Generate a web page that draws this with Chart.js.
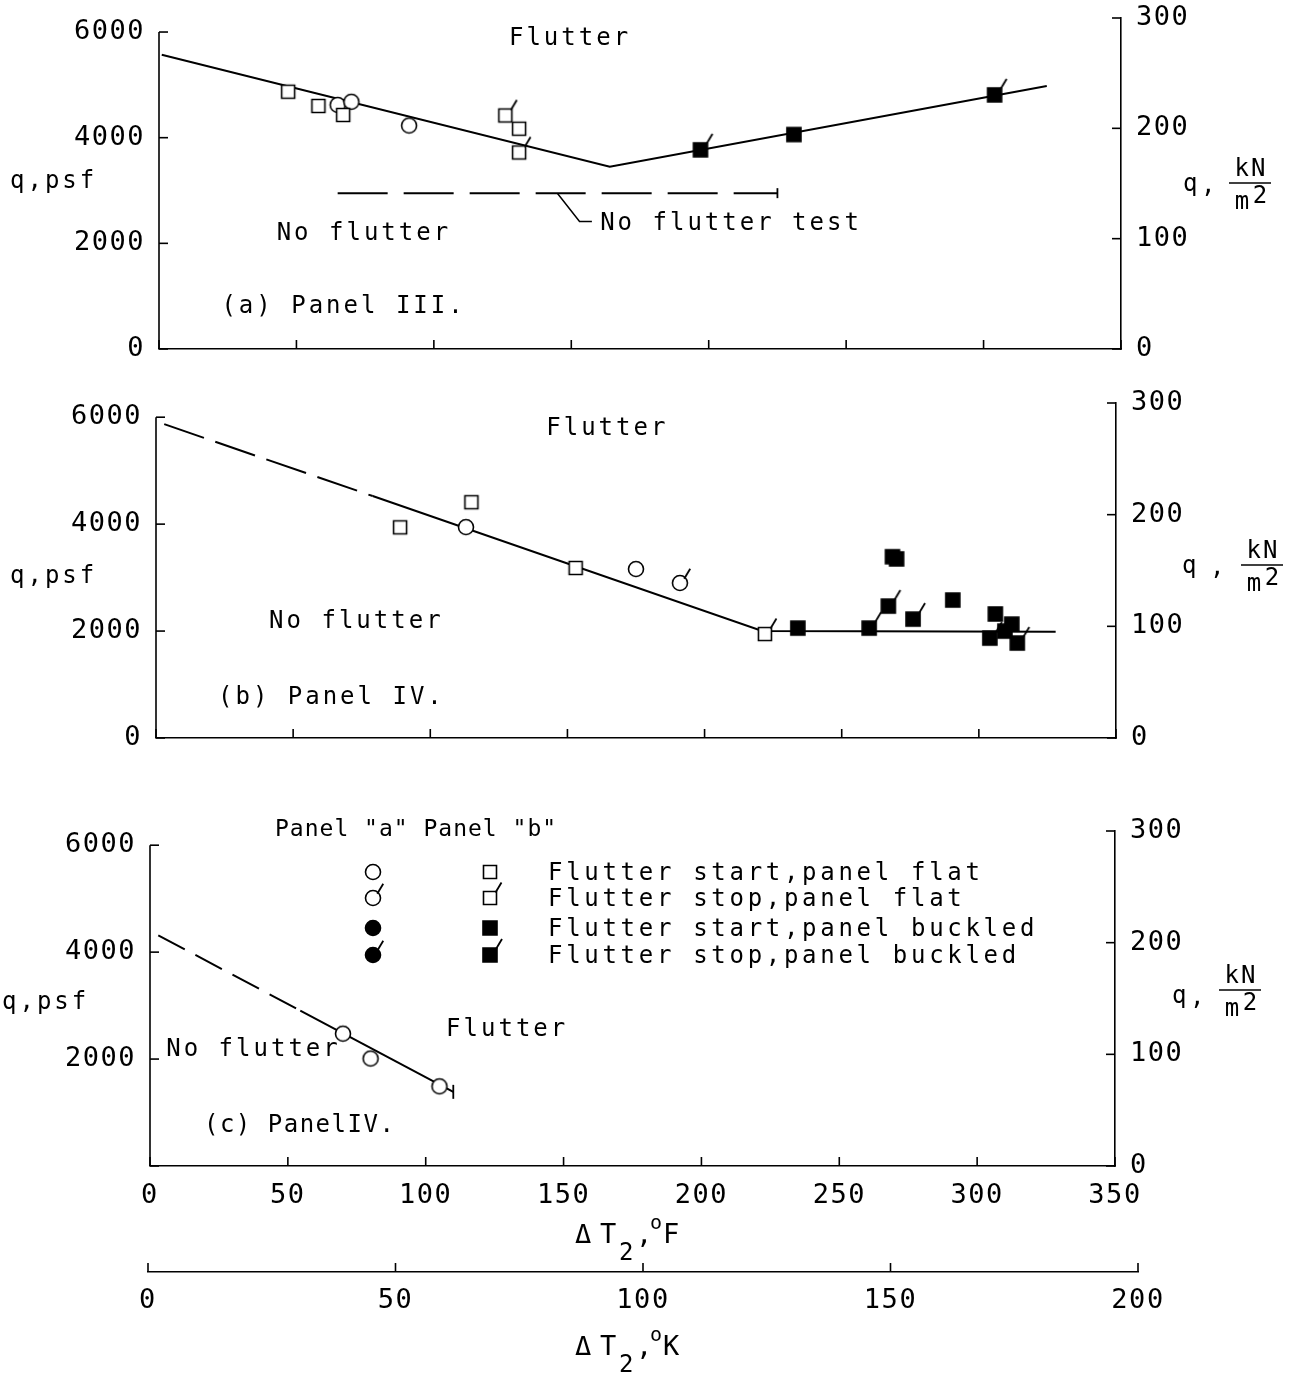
<!DOCTYPE html>
<html>
<head>
<meta charset="utf-8">
<script src="https://cdn.jsdelivr.net/npm/chart.js@4"></script>
<style>
  body { margin: 0; background: #fff; width: 1298px; height: 1376px; position: relative; overflow: hidden; }
  canvas { position: absolute; left: 0; }
</style>
</head>
<body>
<canvas id="ca" width="1298" height="385" style="top:0px"></canvas>
<canvas id="cb" width="1298" height="400" style="top:385px"></canvas>
<canvas id="cc" width="1298" height="480" style="top:785px"></canvas>
<canvas id="ck" width="1298" height="126" style="top:1250px"></canvas>
<script>
"use strict";

// TICKS
const psfTicks = [0, 2000, 4000, 6000];
const kNTicks = [0, 100, 200, 300];
const degFTicks = [0, 50, 100, 150, 200, 250, 300, 350];
const degKTicks = [0, 50, 100, 150, 200];
const PSF_PER_KN = 20.885;

// (a) PANEL III  -- T in deg F, q in psf
const aBoundT = [1, 164, 323];
const aBoundQ = [5570, 3450, 4980];
const aNoTestT = [65, 225];
const aNoTestQ = [2950, 2950];
const aSqStartT = [47, 58, 67, 131];
const aSqStartQ = [4870, 4600, 4430, 4170];
const aSqStopT = [126, 131];
const aSqStopQ = [4420, 3720];
const aCircStartT = [65, 70, 91];
const aCircStartQ = [4620, 4680, 4230];
const aSqBuckStartT = [231];
const aSqBuckStartQ = [4060];
const aSqBuckStopT = [197, 304];
const aSqBuckStopQ = [3770, 4810];

// (b) PANEL IV
const bDashT = [3, 79];
const bDashQ = [5870, 4525];
const bBoundT = [79, 221, 328];
const bBoundQ = [4525, 2000, 1985];
const bSqStartT = [89, 115, 153];
const bSqStartQ = [3940, 4410, 3180];
const bSqStopT = [222];
const bSqStopQ = [1945];
const bCircStartT = [113, 175];
const bCircStartQ = [3945, 3160];
const bCircStopT = [191];
const bCircStopQ = [2900];
const bSqBuckStartT = [234, 268.5, 270, 290.5, 306, 312, 309.5];
const bSqBuckStartQ = [2055, 3390, 3350, 2580, 2320, 2130, 2000];
const bSqBuckStopT = [260, 267, 276, 304, 314];
const bSqBuckStopQ = [2056, 2467, 2224, 1869, 1776];

// (c) PANEL IV
const cDashT = [3, 54.5];
const cDashQ = [4315, 2906];
const cBoundT = [54.5, 110];
const cBoundQ = [2906, 1387];
const cCircStartT = [70, 80, 105];
const cCircStartQ = [2475, 2010, 1490];

const FONT = '"DejaVu Sans Mono", monospace';

// MARKERS
function marker(shape, filled, flag) {
  const c = document.createElement("canvas");
  c.width = 40;
  c.height = 40;
  const g = c.getContext("2d");
  g.translate(20, 20);
  g.strokeStyle = "#000";
  g.lineWidth = 1.6;
  g.beginPath();
  let fx, fy;
  if (shape === "circle") {
    const r = 7.5;
    g.arc(0, 0, r, 0, Math.PI * 2);
    fx = r * 0.7;
    fy = -r * 0.7;
  } else {
    const h = filled ? 7 : 6.5;
    g.rect(-h, -h, 2 * h, 2 * h);
    fx = h;
    fy = -h;
  }
  g.fillStyle = filled ? "#000" : "#fff";
  g.fill();
  g.stroke();
  if (flag) {
    g.beginPath();
    g.moveTo(fx - 1, fy + 1);
    g.lineTo(fx + 5, fy - 9);
    g.lineWidth = 1.8;
    g.stroke();
  }
  return c;
}

const M = {
  circ: marker("circle", false, false),
  circStop: marker("circle", false, true),
  circFill: marker("circle", true, false),
  circFillStop: marker("circle", true, true),
  sq: marker("rect", false, false),
  sqStop: marker("rect", false, true),
  sqFill: marker("rect", true, false),
  sqFillStop: marker("rect", true, true),
};

const pts = (xs, ys) => xs.map((x, i) => ({ x, y: ys[i] }));

function markSet(xs, ys, style) {
  return { data: pts(xs, ys), pointStyle: style, pointRadius: 7, showLine: false, order: 0 };
}

function lineSet(xs, ys, dash, cap) {
  return {
    data: pts(xs, ys),
    showLine: true,
    borderColor: "#000",
    borderWidth: 2,
    borderDash: dash || [],
    pointStyle: "line",
    pointRotation: 90,
    pointRadius: xs.map((_, i) => (cap && i === xs.length - 1 ? cap : 0)),
    pointBorderColor: "#000",
    pointBorderWidth: 1.8,
    order: 1,
  };
}

// TEXT HELPERS
function note(ctx, s, x, y, opt) {
  opt = opt || {};
  const size = opt.size || 24;
  const sp = opt.sp != null ? opt.sp : 3;
  ctx.save();
  ctx.font = size + "px " + FONT;
  ctx.letterSpacing = sp + "px";
  ctx.fillStyle = "#000";
  ctx.textAlign = opt.align || "center";
  ctx.textBaseline = "middle";
  ctx.fillText(s, ctx.textAlign === "center" ? x + sp / 2 : x, y);
  ctx.restore();
}

function kNTitle(ctx, qx, qy, cx, fx, fy) {
  note(ctx, "q", qx, qy, { align: "left" });
  note(ctx, ",", cx, qy + 2, { align: "left" });
  note(ctx, "kN", fx, fy - 13, { sp: 2 });
  ctx.save();
  ctx.lineWidth = 1.6;
  ctx.beginPath();
  ctx.moveTo(fx - 21, fy);
  ctx.lineTo(fx + 21, fy);
  ctx.stroke();
  ctx.restore();
  note(ctx, "m", fx - 8, fy + 20, { sp: 0 });
  note(ctx, "2", fx + 10, fy + 14, { sp: 0 });
}

function dTTitle(ctx, x, base, unit) {
  const draw = (s, dx, dy, size) => {
    ctx.save();
    ctx.font = size + "px " + FONT;
    ctx.letterSpacing = "0px";
    ctx.textBaseline = "alphabetic";
    ctx.textAlign = "left";
    ctx.fillStyle = "#000";
    ctx.fillText(s, x + dx, base + dy);
    ctx.restore();
  };
  draw("\u0394", 0, 0, 27);
  draw("T", 25, 0, 27);
  draw("2", 44, 17, 24);
  draw(",", 61, 0, 27);
  draw("o", 75, -14, 20);
  draw(unit, 88, 0, 27);
}

// PLUGINS
const spacing = {
  id: "spacing",
  beforeDraw(chart) {
    chart.ctx.letterSpacing = "1.5px";
  },
};

const inwardTicks = {
  id: "inwardTicks",
  afterDraw(chart) {
    const ctx = chart.ctx;
    ctx.save();
    ctx.strokeStyle = "#000";
    ctx.lineWidth = 1.6;
    for (const s of Object.values(chart.scales)) {
      if (!s.options.display) continue;
      if (s.position === "left") {
        ctx.beginPath();
        ctx.moveTo(s.right, s.getPixelForValue(0));
        ctx.lineTo(s.right, s.getPixelForValue(psfTicks[psfTicks.length - 1]));
        ctx.stroke();
      }
      for (const t of s.ticks) {
        const p = s.getPixelForValue(t.value);
        ctx.beginPath();
        if (s.position === "left") {
          ctx.moveTo(s.right, p);
          ctx.lineTo(s.right + 9, p);
        } else if (s.position === "right") {
          ctx.moveTo(s.left, p);
          ctx.lineTo(s.left - 9, p);
        } else {
          ctx.moveTo(p, s.top);
          ctx.lineTo(p, s.top - 9);
        }
        ctx.stroke();
      }
    }
    ctx.restore();
  },
};

const tickFont = { family: FONT, size: 27 };
const setTicks = (list) => (s) => {
  s.ticks = list.map((v) => ({ value: v }));
};
const noPad = (s) => {
  s.paddingTop = 0;
  s.paddingBottom = 0;
};

function panel(id, area, h, datasets, decorate, opt) {
  return new Chart(document.getElementById(id), {
    type: "scatter",
    data: { datasets },
    options: {
      responsive: false,
      animation: false,
      events: [],
      layout: { padding: { top: area.top, left: 0, right: 0, bottom: 0 } },
      plugins: { legend: { display: false }, tooltip: { enabled: false } },
      scales: {
        x: {
          type: "linear",
          position: "bottom",
          min: 0,
          max: 350,
          afterBuildTicks: setTicks(degFTicks),
          afterFit: (s) => {
            s.height = h - area.bottom;
            s.paddingLeft = 0;
            s.paddingRight = 0;
          },
          grid: { display: false },
          border: { display: true, color: "#000", width: 1.6 },
          ticks: { display: opt.xLabels, padding: 6, color: "#000", font: tickFont, callback: (v) => String(v) },
        },
        y: {
          position: "left",
          min: 0,
          max: kNTicks[kNTicks.length - 1] * PSF_PER_KN,
          afterBuildTicks: setTicks(psfTicks),
          afterFit: (s) => {
            s.width = area.left;
            noPad(s);
          },
          grid: { display: false },
          border: { display: false },
          ticks: {
            padding: 6,
            color: "#000",
            font: tickFont,
            callback: (v) => (v === 0 && opt.hideZero ? "" : String(v)),
          },
        },
        y2: {
          position: "right",
          min: 0,
          max: kNTicks[kNTicks.length - 1],
          afterBuildTicks: setTicks(kNTicks),
          afterFit: (s) => {
            s.width = 1298 - area.right;
            noPad(s);
          },
          grid: { display: false },
          border: { display: true, color: "#000", width: 1.6 },
          ticks: { padding: 7, color: "#000", font: tickFont, callback: (v) => String(v) },
        },
      },
    },
    plugins: [spacing, inwardTicks, { id: "deco", afterDraw: decorate }],
  });
}

// PANEL (a)
panel(
  "ca",
  { left: 159, right: 1121, top: 18, bottom: 349 },
  385,
  [
    lineSet(aBoundT, aBoundQ),
    lineSet(aNoTestT, aNoTestQ, [50, 16], 5),
    markSet(aSqStartT, aSqStartQ, M.sq),
    markSet(aSqStopT, aSqStopQ, M.sqStop),
    markSet(aCircStartT, aCircStartQ, M.circ),
    markSet(aSqBuckStartT, aSqBuckStartQ, M.sqFill),
    markSet(aSqBuckStopT, aSqBuckStopQ, M.sqFillStop),
  ],
  (chart) => {
    const { ctx, scales: { x, y } } = chart;
    const P = (t, q) => [x.getPixelForValue(t), y.getPixelForValue(q)];
    note(ctx, "Flutter", ...P(149, 5870));
    note(ctx, "No flutter", ...P(74, 2190));
    note(ctx, "(a) Panel III.", ...P(66.6, 790));
    note(ctx, "No flutter test", ...P(160.5, 2380), { align: "left" });
    ctx.save();
    ctx.lineWidth = 1.5;
    ctx.beginPath();
    ctx.moveTo(...P(145, 2944));
    ctx.lineTo(...P(153, 2415));
    ctx.lineTo(...P(157.5, 2415));
    ctx.stroke();
    ctx.restore();
    note(ctx, "q,psf", 10, 182, { align: "left" });
    kNTitle(ctx, 1183, 185, 1201, 1250, 183);
  },
  { xLabels: false, hideZero: false }
);

// PANEL (b)
panel(
  "cb",
  { left: 156, right: 1116, top: 18, bottom: 353 },
  400,
  [
    lineSet(bDashT, bDashQ, [42, 12]),
    lineSet(bBoundT, bBoundQ),
    markSet(bSqStartT, bSqStartQ, M.sq),
    markSet(bSqStopT, bSqStopQ, M.sqStop),
    markSet(bCircStartT, bCircStartQ, M.circ),
    markSet(bCircStopT, bCircStopQ, M.circStop),
    markSet(bSqBuckStartT, bSqBuckStartQ, M.sqFill),
    markSet(bSqBuckStopT, bSqBuckStopQ, M.sqFillStop),
  ],
  (chart) => {
    const { ctx, scales: { x, y } } = chart;
    const P = (t, q) => [x.getPixelForValue(t), y.getPixelForValue(q)];
    note(ctx, "Flutter", ...P(164, 5775));
    note(ctx, "No flutter", ...P(72.5, 2168));
    note(ctx, "(b) Panel IV.", ...P(63.4, 760));
    note(ctx, "q,psf", 10, 192, { align: "left" });
    kNTitle(ctx, 1182, 182, 1210, 1262, 180);
  },
  { xLabels: false, hideZero: false }
);

// PANEL (c)
const legendRows = [
  ["Flutter start,panel flat", M.circ, M.sq],
  ["Flutter stop,panel flat", M.circStop, M.sqStop],
  ["Flutter start,panel buckled", M.circFill, M.sqFill],
  ["Flutter stop,panel buckled", M.circFillStop, M.sqFillStop],
];

panel(
  "cc",
  { left: 150, right: 1115, top: 46, bottom: 381 },
  480,
  [
    lineSet(cDashT, cDashQ, [30, 12]),
    lineSet(cBoundT, cBoundQ, [], 7),
    markSet(cCircStartT, cCircStartQ, M.circ),
  ],
  (chart) => {
    const { ctx, scales: { x, y } } = chart;
    const P = (t, q) => [x.getPixelForValue(t), y.getPixelForValue(q)];
    note(ctx, "No flutter", ...P(37, 2176));
    note(ctx, "Flutter", ...P(129, 2548));
    note(ctx, "(c) PanelIV.", ...P(54, 744), { sp: 1.5 });
    note(ctx, "q,psf", 2, 218, { align: "left" });
    kNTitle(ctx, 1172, 212, 1190, 1240, 205);
    // legend
    note(ctx, 'Panel "a" Panel "b"', 275, 45, { align: "left", size: 23, sp: 1 });
    const rowY = [87, 113, 143, 170];
    legendRows.forEach((r, i) => {
      ctx.drawImage(r[1], 373 - 20, rowY[i] - 20);
      ctx.drawImage(r[2], 490 - 20, rowY[i] - 20);
      note(ctx, r[0], 548, rowY[i] + 2, { align: "left", sp: 3.7 });
    });
    dTTitle(ctx, 575, 458, "F");
  },
  { xLabels: true, hideZero: true }
);

// DEG K AXIS
new Chart(document.getElementById("ck"), {
  type: "scatter",
  data: { datasets: [] },
  options: {
    responsive: false,
    animation: false,
    events: [],
    layout: { padding: { left: 148, right: 1298 - 1138, top: 12, bottom: 0 } },
    plugins: { legend: { display: false }, tooltip: { enabled: false } },
    scales: {
      x: {
        type: "linear",
        position: "bottom",
        min: 0,
        max: 200,
        afterBuildTicks: setTicks(degKTicks),
        afterFit: (s) => { s.height = 126 - 22; },
        grid: { display: false },
        border: { display: true, color: "#000", width: 1.6 },
        ticks: { padding: 5, color: "#000", font: tickFont, callback: (v) => String(v) },
      },
      y: { display: false, min: 0, max: 1 },
    },
  },
  plugins: [spacing, inwardTicks, { id: "kt", afterDraw: (c) => dTTitle(c.ctx, 575, 105, "K") }],
});
</script>
</body>
</html>
